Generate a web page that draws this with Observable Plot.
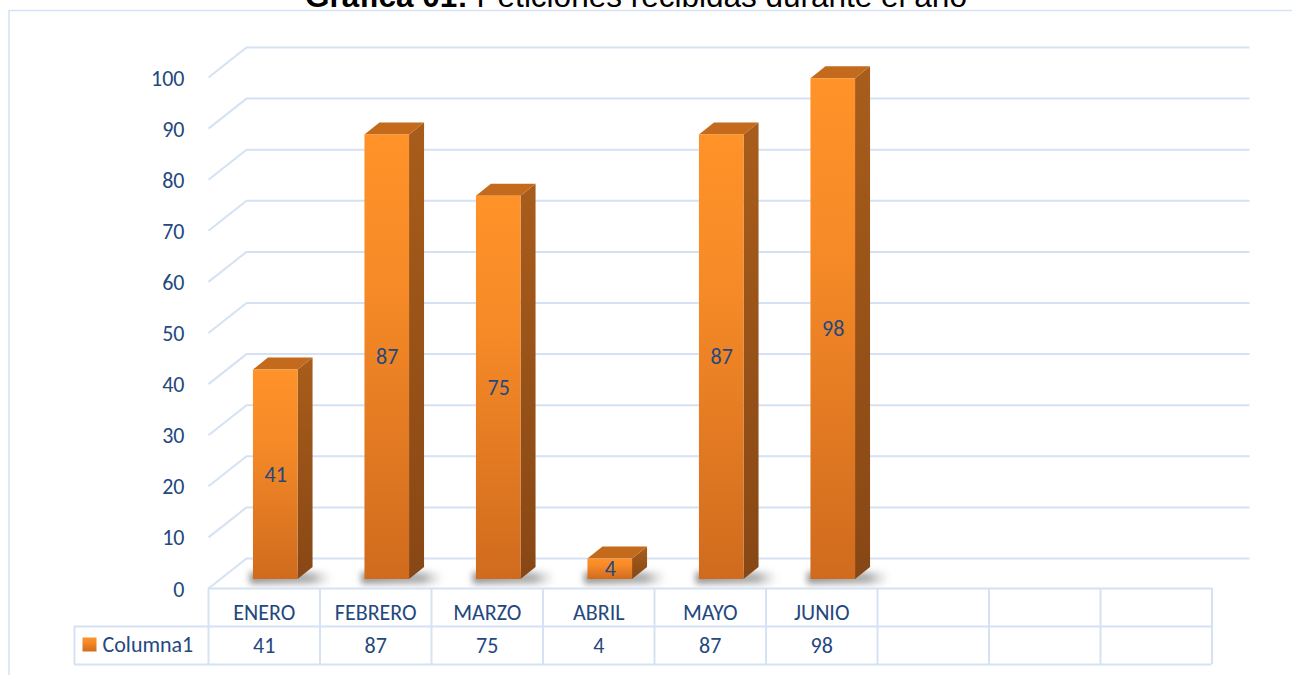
<!DOCTYPE html>
<html><head><meta charset="utf-8">
<script src="https://cdn.jsdelivr.net/npm/d3@7"></script>
<script src="https://cdn.jsdelivr.net/npm/@observablehq/plot@0.6"></script>
<style>html,body{margin:0;padding:0;background:#fff;overflow:hidden}#chart svg{display:block}</style>
</head><body><div id="chart"></div>
<script>
// ---- data ----
const categories = ["ENERO", "FEBRERO", "MARZO", "ABRIL", "MAYO", "JUNIO"];
const values = [41, 87, 75, 4, 87, 98];
const seriesName = "Columna1";
const yTicks = [0, 10, 20, 30, 40, 50, 60, 70, 80, 90, 100];
const emptyColumns = 3;
const titleBold = "Gráfica 01:";
const titleRest = " Peticiones recibidas durante el año";

// ---- layout / style ----
const W = 1292, H = 675;
const X0 = 208, COLW = 111.5, Y0 = 588, PXU = 5.11;
const nCols = categories.length + emptyColumns;
const ux = p => p / COLW, uy = p => p / PXU;
const WALL_DX = 38, WALL_DY = 30;
const BAR_OFF = 0.30, BAR_W = 0.40, BAR_DX = 11.5, BAR_DY = 9, SIDE_DX = 15, SIDE_DY = 12;
const ROW = 38, LEG = 134;
const GRID = "#D5E2F3", TEXT = "#24487E", FONT = "Carlito, Lato, sans-serif", FS = 22;

const bars = categories.map((c, i) => ({c, i, v: values[i]}));
const sx = ux(SIDE_DX), sy = uy(SIDE_DY);
const sidePts = bars.flatMap(b => {
  const x2 = b.i + BAR_OFF + BAR_W;
  return [{c: b.c, x: x2, y1: 0, y2: b.v}, {c: b.c, x: x2 + sx, y1: sy, y2: b.v + sy}];
});
const topPts = bars.flatMap(b => {
  const x1 = b.i + BAR_OFF, x2 = x1 + BAR_W;
  return [
    {c: b.c, x: x1, y1: b.v, y2: b.v},
    {c: b.c, x: x1 + sx, y1: b.v, y2: b.v + sy},
    {c: b.c, x: x2, y1: b.v, y2: b.v + sy},
    {c: b.c, x: x2 + sx, y1: b.v + sy, y2: b.v + sy}
  ];
});

function defs() {
  const g = d3.create("svg:g");
  const d = g.append("defs");
  const fg = d.append("linearGradient").attr("id", "frontGrad").attr("x1", 0).attr("y1", 0).attr("x2", 0).attr("y2", 1);
  fg.append("stop").attr("offset", "0").attr("stop-color", "#FF9228");
  fg.append("stop").attr("offset", "0.35").attr("stop-color", "#F68A27");
  fg.append("stop").attr("offset", "1").attr("stop-color", "#D06B1E");
  const sg = d.append("linearGradient").attr("id", "sideGrad").attr("x1", 0).attr("y1", 0).attr("x2", 0).attr("y2", 1);
  sg.append("stop").attr("offset", "0").attr("stop-color", "#A85D1B");
  sg.append("stop").attr("offset", "1").attr("stop-color", "#874715");
  const sh = d.append("linearGradient").attr("id", "shadowGrad").attr("x1", 0).attr("y1", 0).attr("x2", 1).attr("y2", 0);
  sh.append("stop").attr("offset", "0").attr("stop-color", "#444").attr("stop-opacity", 0.55);
  sh.append("stop").attr("offset", "0.75").attr("stop-color", "#555").attr("stop-opacity", 0.45);
  sh.append("stop").attr("offset", "1").attr("stop-color", "#888").attr("stop-opacity", 0);
  return g.node();
}
function border() {
  return d3.create("svg:path").attr("d", `M9,${H} V10.5 H${W}`).attr("fill", "none")
    .attr("stroke", GRID).attr("stroke-width", 1.5).node();
}
function title() {
  const t = d3.create("svg:text").attr("x", 305).attr("y", 7).attr("text-anchor", "start")
    .attr("font-family", "'Liberation Sans', Arial, sans-serif").attr("font-size", 31.5).attr("fill", "#000");
  t.append("tspan").attr("font-weight", "bold").text(titleBold);
  t.append("tspan").text(titleRest);
  return t.node();
}

const chart = Plot.plot({
  width: W, height: H, margin: 0,
  style: {background: "#fff"},
  x: {domain: [0, nCols], range: [X0, X0 + nCols * COLW], axis: null},
  y: {domain: [0, 100], range: [Y0, Y0 - 100 * PXU], axis: null},
  marks: [
    defs,
    border,
    // left wall diagonals
    Plot.link(yTicks, {x1: 0, y1: d => d, x2: ux(WALL_DX), y2: d => d + uy(WALL_DY), stroke: GRID, strokeWidth: 2}),
    // back wall gridlines
    Plot.ruleY(yTicks, {y: d => d + uy(WALL_DY), x1: ux(WALL_DX), x2: nCols + ux(WALL_DX), stroke: GRID, strokeWidth: 2}),
    // floor shadows
    Plot.rect(bars, {x1: d => d.i + BAR_OFF - 0.03, x2: d => d.i + BAR_OFF + BAR_W + ux(34), y1: uy(1), y2: uy(13),
      dx: BAR_DX, dy: -3, fill: "url(#shadowGrad)", imageFilter: "blur(3px)"}),
    // bar side faces
    Plot.areaY(sidePts, {x: "x", y1: "y1", y2: "y2", z: "c", fill: "url(#sideGrad)", dx: BAR_DX, dy: -BAR_DY}),
    // bar top faces
    Plot.areaY(topPts, {x: "x", y1: "y1", y2: "y2", z: "c", fill: "#C46A1C", dx: BAR_DX, dy: -BAR_DY}),
    // bar front faces
    Plot.rect(bars, {x1: d => d.i + BAR_OFF, x2: d => d.i + BAR_OFF + BAR_W, y1: 0, y2: "v",
      fill: "url(#frontGrad)", dx: BAR_DX, dy: -BAR_DY}),
    // data labels
    Plot.text(bars, {x: d => d.i + BAR_OFF + BAR_W / 2, y: d => d.v / 2, text: d => String(d.v),
      dx: BAR_DX, dy: -BAR_DY, fill: TEXT, fontSize: FS, fontFamily: FONT}),
    // y axis labels
    Plot.text(yTicks, {x: 0, y: d => d, text: d => String(d), textAnchor: "end", dx: -24, dy: 1,
      fill: TEXT, fontSize: FS, fontFamily: FONT}),
    // data table lines
    Plot.ruleY([0], {x1: 0, x2: nCols, stroke: GRID, strokeWidth: 2}),
    Plot.ruleY([-uy(ROW), -uy(2 * ROW)], {x1: -ux(LEG), x2: nCols, stroke: GRID, strokeWidth: 2}),
    Plot.ruleX(d3.range(0, nCols + 1), {y1: 0, y2: -uy(2 * ROW), stroke: GRID, strokeWidth: 2}),
    Plot.ruleX([-ux(LEG)], {y1: -uy(ROW), y2: -uy(2 * ROW), stroke: GRID, strokeWidth: 2}),
    // data table texts
    Plot.text(bars, {x: d => d.i + 0.5, y: 0, dy: 24, text: "c", fill: TEXT, fontSize: FS, fontFamily: FONT}),
    Plot.text(bars, {x: d => d.i + 0.5, y: 0, dy: 57, text: d => String(d.v), fill: TEXT, fontSize: FS, fontFamily: FONT}),
    // legend key
    Plot.dot([seriesName], {x: -ux(LEG), y: 0, dx: 15, dy: 56, symbol: "square", r: 7.9, fill: "url(#frontGrad)"}),
    Plot.text([seriesName], {x: -ux(LEG), y: 0, dx: 28, dy: 56, text: d => d, textAnchor: "start",
      fill: TEXT, fontSize: FS, fontFamily: FONT}),
    title
  ]
});
document.getElementById("chart").append(chart);
</script>
</body></html>
